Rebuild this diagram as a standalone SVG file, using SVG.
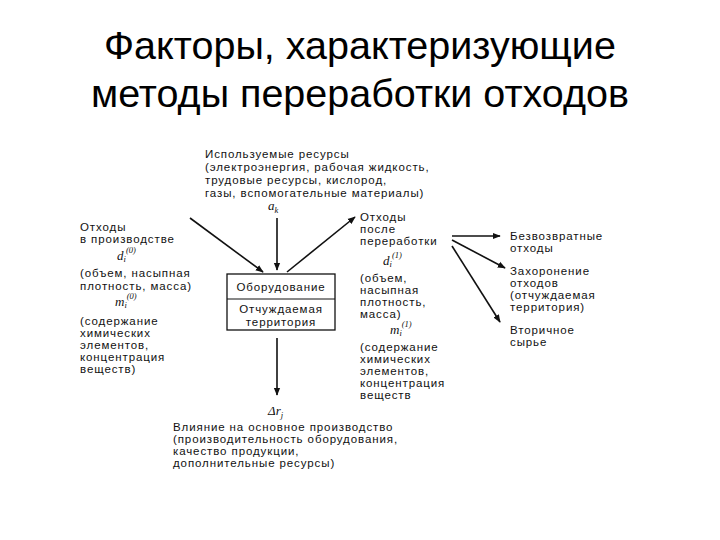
<svg xmlns="http://www.w3.org/2000/svg" width="720" height="540" viewBox="0 0 720 540">
<style>
.t{font-family:"Liberation Sans",Arial,sans-serif;font-size:11.5px;letter-spacing:0.9px;fill:#111}
.h{font-family:"Liberation Sans",Arial,sans-serif;font-size:39.5px;fill:#000;text-anchor:middle}
.m{font-family:"Liberation Serif",serif;font-style:italic;font-size:13px;fill:#111}
.s{font-size:8.5px}
.c{stroke:#111;stroke-width:1.6;fill:none;marker-end:url(#a)}
</style>
<defs><marker id="a" viewBox="0 0 10 10" refX="9" refY="5" markerWidth="8" markerHeight="8" orient="auto" markerUnits="userSpaceOnUse"><path d="M0,1 L10,5 L0,9 z" fill="#111"/></marker></defs>
<rect width="720" height="540" fill="#fff"/>
<g id="title"><text class="h" x="360" y="59">Факторы, характеризующие</text><text class="h" x="360" y="107">методы переработки отходов</text></g>
<g id="connectors">
<line class="c" x1="190" y1="218" x2="263" y2="272"/>
<line class="c" x1="277" y1="218" x2="277" y2="270"/>
<line class="c" x1="287" y1="272" x2="355" y2="217"/>
<line class="c" x1="452" y1="236" x2="500" y2="236"/>
<line class="c" x1="452" y1="240" x2="505" y2="268"/>
<line class="c" x1="452" y1="246" x2="500" y2="322"/>
<line class="c" x1="277" y1="338" x2="277" y2="395"/>
</g>
<g id="box"><rect x="227" y="274" width="108" height="56" fill="#fff" stroke="#111" stroke-width="1.3"/><line x1="227" y1="299" x2="335" y2="299" stroke="#111" stroke-width="1"/>
<text class="t" x="281" y="291" text-anchor="middle">Оборудование</text><text class="t" x="281" y="313" text-anchor="middle">Отчуждаемая</text><text class="t" x="281" y="326" text-anchor="middle">территория</text></g>
<g id="resources"><text class="t" x="205" y="158">Используемые ресурсы</text><text class="t" x="205" y="171">(электроэнергия, рабочая жидкость,</text><text class="t" x="205" y="184">трудовые ресурсы, кислород,</text><text class="t" x="205" y="197">газы, вспомогательные материалы)</text><text class="m" x="268" y="210">a<tspan class="s" dy="3">k</tspan></text></g>
<g id="input"><text class="t" x="80" y="231">Отходы</text><text class="t" x="80" y="243">в производстве</text><text class="m" x="117" y="260">d<tspan class="s" dy="2">i</tspan><tspan class="s" dy="-9">(0)</tspan></text>
<text class="t" x="80" y="277">(объем, насыпная</text><text class="t" x="80" y="290">плотность, масса)</text><text class="m" x="115" y="306">m<tspan class="s" dy="2">i</tspan><tspan class="s" dy="-9">(0)</tspan></text>
<text class="t" x="80" y="325">(содержание</text><text class="t" x="80" y="337">химических</text><text class="t" x="80" y="349">элементов,</text><text class="t" x="80" y="361">концентрация</text><text class="t" x="80" y="373">веществ)</text></g>
<g id="output"><text class="t" x="360" y="221">Отходы</text><text class="t" x="360" y="233">после</text><text class="t" x="360" y="245">переработки</text><text class="m" x="383" y="265">d<tspan class="s" dy="2">i</tspan><tspan class="s" dy="-9">(1)</tspan></text>
<text class="t" x="360" y="282">(объем,</text><text class="t" x="360" y="294">насыпная</text><text class="t" x="360" y="306">плотность,</text><text class="t" x="360" y="318">масса)</text><text class="m" x="390" y="334">m<tspan class="s" dy="2">i</tspan><tspan class="s" dy="-9">(1)</tspan></text>
<text class="t" x="360" y="351">(содержание</text><text class="t" x="360" y="363">химических</text><text class="t" x="360" y="375">элементов,</text><text class="t" x="360" y="387">концентрация</text><text class="t" x="360" y="399">веществ</text></g>
<g id="dest"><text class="t" x="510" y="240">Безвозвратные</text><text class="t" x="510" y="252">отходы</text>
<text class="t" x="510" y="275">Захоронение</text><text class="t" x="510" y="287">отходов</text><text class="t" x="510" y="299">(отчуждаемая</text><text class="t" x="510" y="311">территория)</text>
<text class="t" x="510" y="334">Вторичное</text><text class="t" x="510" y="346">сырье</text></g>
<g id="effect"><text class="m" x="268" y="415">Δr<tspan class="s" dy="3">j</tspan></text>
<text class="t" x="173" y="431">Влияние на основное производство</text><text class="t" x="173" y="443">(производительность оборудования,</text><text class="t" x="173" y="455">качество продукции,</text><text class="t" x="173" y="467">дополнительные ресурсы)</text></g>
</svg>
